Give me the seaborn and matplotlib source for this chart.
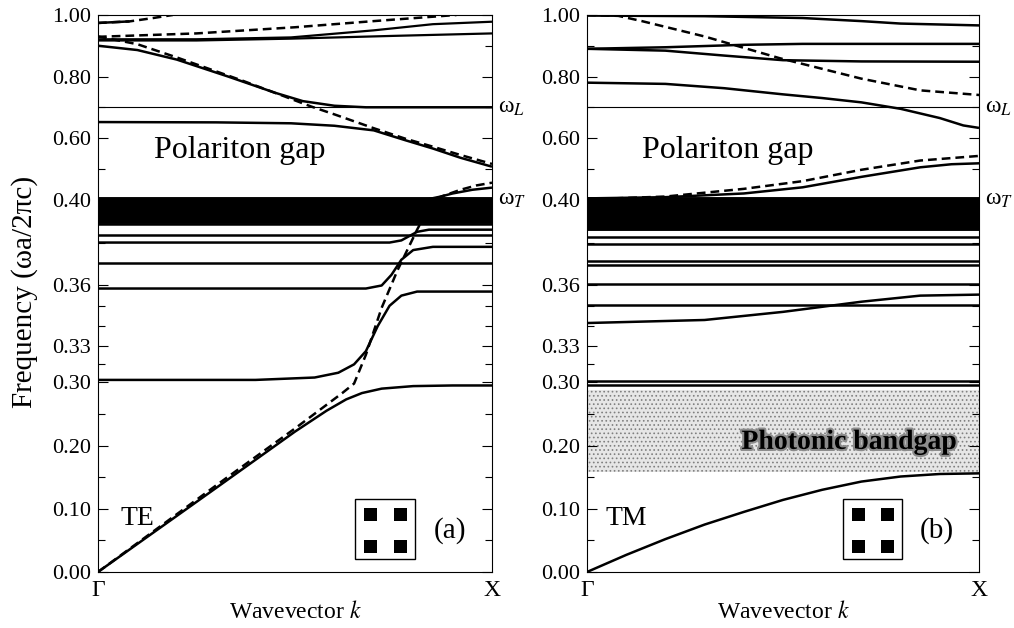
import numpy as np
import matplotlib
matplotlib.use("Agg")
import matplotlib.pyplot as plt
import matplotlib.transforms as mtransforms
import matplotlib.patheffects as pe
from matplotlib.patches import Rectangle
import seaborn as sns

# ---------------------------------------------------------------- data
# stretched frequency axis: frequency value -> vertical position (px)
scale_f = [-1.0, 0.00, 0.30, 0.33, 0.36, 0.40, 1.00, 2.0]
scale_pos = [-633, 0, 190, 226, 287, 373, 558, 866]

major_ticks = [0.00, 0.10, 0.20, 0.30, 0.33, 0.36, 0.40, 0.60, 0.80, 1.00]
major_labels = ["0.00", "0.10", "0.20", "0.30", "0.33", "0.36", "0.40",
                "0.60", "0.80", "1.00"]
minor_ticks = [0.05, 0.15, 0.25, 0.315, 0.34, 0.35, 0.38, 0.50, 0.70, 0.90]

omega_L = 0.70
omega_T = 0.40

# ---- TE panel: solid bands (k from Gamma=0 to X=1)
te_low_k = [0, 0.3, 0.5, 0.58, 0.63, 0.67, 0.72, 0.8, 0.9, 1.0]
te_low_f = [0, 0.133, 0.222, 0.255, 0.273, 0.283, 0.290, 0.294, 0.295, 0.295]

te_b2_k = [0, 0.4, 0.55, 0.61, 0.65, 0.68, 0.71, 0.74, 0.77, 0.81, 0.9, 1.0]
te_b2_f = [0.302, 0.302, 0.304, 0.308, 0.315, 0.326, 0.340, 0.350, 0.355, 0.357, 0.357, 0.357]

te_b3_k = [0, 0.68, 0.72, 0.745, 0.77, 0.80, 0.85, 1.0]
te_b3_f = [0.3585, 0.3585, 0.360, 0.365, 0.372, 0.3765, 0.378, 0.378]

te_b5_k = [0, 0.74, 0.77, 0.79, 0.81, 0.84, 1.0]
te_b5_f = [0.380, 0.380, 0.381, 0.383, 0.385, 0.386, 0.386]

te_flat_f = [0.3707, 0.3835, 0.3885]
te_band_f = [0.3895, 0.3905, 0.3915, 0.3925, 0.3935, 0.3945, 0.3955,
             0.3965, 0.3975, 0.3985, 0.3995, 0.4005]

te_up_k = [0.80, 0.84, 0.87, 0.90, 0.95, 1.0]
te_up_f = [0.3995, 0.402, 0.410, 0.420, 0.432, 0.439]

te_u2_k = [0, 0.3, 0.49, 0.6, 0.7, 0.78, 0.85, 0.92, 1.0]
te_u2_f = [0.652, 0.651, 0.648, 0.640, 0.625, 0.593, 0.566, 0.536, 0.507]

te_u1_k = [0, 0.1, 0.2, 0.33, 0.45, 0.52, 0.6, 0.68, 1.0]
te_u1_f = [0.900, 0.886, 0.855, 0.800, 0.747, 0.720, 0.705, 0.700, 0.700]

te_sa_k = [0, 0.25, 0.49, 0.7, 0.85, 1.0]
te_sa_f = [0.921, 0.921, 0.927, 0.950, 0.970, 0.978]

te_sb_k = [0, 0.25, 0.49, 0.75, 1.0]
te_sb_f = [0.917, 0.917, 0.923, 0.932, 0.940]

te_sc_k = [0, 0.08]
te_sc_f = [0.974, 0.979]

# ---- TE panel: light lines (dashed)
te_l1_k = [0, 0.3, 0.5, 0.62, 0.65, 0.68, 0.72, 0.76, 0.81, 0.85, 0.88, 0.92, 0.96, 1.0]
te_l1_f = [0, 0.137, 0.227, 0.283, 0.298, 0.323, 0.349, 0.367, 0.386, 0.400, 0.414, 0.432, 0.446, 0.455]

te_l2_k = [0, 0.1, 0.2, 0.37, 0.47, 0.54, 0.6, 0.7, 0.78, 0.85, 0.92, 1.0]
te_l2_f = [0.930, 0.905, 0.862, 0.785, 0.737, 0.703, 0.677, 0.632, 0.598, 0.572, 0.545, 0.516]

te_l3_k = [0, 0.25, 0.5, 0.7, 0.91]
te_l3_f = [0.929, 0.940, 0.960, 0.980, 1.000]

te_l4_k = [0, 0.08, 0.14, 0.19]
te_l4_f = [0.974, 0.979, 0.990, 1.000]

# ---- TM panel: solid bands
tm_low_k = [0, 0.1, 0.2, 0.3, 0.4, 0.5, 0.6, 0.7, 0.8, 0.9, 1.0]
tm_low_f = [0, 0.027, 0.052, 0.075, 0.095, 0.114, 0.130, 0.143, 0.151, 0.155, 0.156]

tm_mid_k = [0, 0.3, 0.5, 0.7, 0.85, 1.0]
tm_mid_f = [0.3415, 0.343, 0.347, 0.352, 0.355, 0.3555]

tm_flat_f = [0.2965, 0.301, 0.3505, 0.3605, 0.3695, 0.3715, 0.3795, 0.3825]
tm_band_f = [0.3865, 0.3875, 0.3885, 0.3895, 0.3905, 0.3915, 0.3925, 0.3935,
             0.3945, 0.3955, 0.3965, 0.3975, 0.3985, 0.3995, 0.4005]

tm_up_k = [0, 0.2, 0.4, 0.55, 0.7, 0.85, 0.93, 1.0]
tm_up_f = [0.404, 0.408, 0.420, 0.440, 0.474, 0.505, 0.515, 0.518]

tm_r_k = [0, 0.2, 0.35, 0.5, 0.6, 0.7, 0.8, 0.9, 0.96, 1.0]
tm_r_f = [0.780, 0.776, 0.762, 0.742, 0.730, 0.716, 0.695, 0.665, 0.641, 0.633]

tm_q_k = [0, 0.2, 0.35, 0.5, 0.7, 1.0]
tm_q_f = [0.890, 0.884, 0.868, 0.853, 0.849, 0.848]

tm_p_k = [0, 0.2, 0.4, 0.55, 1.0]
tm_p_f = [0.890, 0.895, 0.903, 0.906, 0.906]

tm_top_k = [0, 0.3, 0.55, 0.7, 0.8, 1.0]
tm_top_f = [0.998, 0.996, 0.990, 0.980, 0.972, 0.966]

# ---- TM panel: light lines (dashed)
tm_l1_k = [0, 0.2, 0.4, 0.55, 0.7, 0.85, 1.0]
tm_l1_f = [0.401, 0.410, 0.435, 0.460, 0.497, 0.527, 0.542]

tm_l2_k = [0, 0.08, 0.14, 0.3, 0.49, 0.7, 0.85, 1.0]
tm_l2_f = [1.000, 0.997, 0.980, 0.930, 0.860, 0.793, 0.755, 0.740]

# TM photonic band gap edges
bandgap_edges = [0.158, 0.288]

# ---------------------------------------------------------------- style
sns.set_theme(style="ticks")
plt.rcParams["font.family"] = ["Liberation Serif", "DejaVu Serif"]
plt.rcParams["mathtext.fontset"] = "stix"
plt.rcParams["text.color"] = "black"
plt.rcParams["axes.labelcolor"] = "black"
plt.rcParams["xtick.color"] = "black"
plt.rcParams["ytick.color"] = "black"
plt.rcParams["hatch.linewidth"] = 0.7

LW = 1.8
DASH = (0, (3.5, 2.0))


def fwd(v):
    return np.interp(np.asarray(v, float), scale_f, scale_pos)


def inv(v):
    return np.interp(np.asarray(v, float), scale_pos, scale_f)


def curve(ax, k, f, dashed=False, lw=LW):
    sns.lineplot(x=k, y=f, ax=ax, color="black", lw=lw, errorbar=None,
                 sort=False, legend=False,
                 linestyle=DASH if dashed else "-",
                 solid_capstyle="butt")


def flat(ax, levels, lw=LW):
    for lev in levels:
        curve(ax, [0, 1], [lev, lev], lw=lw)


def style_axis(ax, label):
    ax.set_yscale("function", functions=(fwd, inv))
    ax.set_xlim(0, 1)
    ax.set_ylim(0, 1)
    ax.set_yticks(major_ticks, major_labels)
    ax.set_yticks(minor_ticks, minor=True)
    ax.tick_params(axis="y", which="both", direction="in", left=True,
                   right=True, width=0.8, labelsize=16, pad=5)
    ax.tick_params(axis="y", which="major", length=7)
    ax.tick_params(axis="y", which="minor", length=5)
    ax.set_xticks([0, 1], ["Γ", "X"])
    ax.tick_params(axis="x", length=0, labelsize=17, pad=6)
    ax.set_xlabel("Wavevector $k$", fontsize=17, labelpad=0)
    ax.set_ylabel("")
    ax.grid(False)
    for s in ax.spines.values():
        s.set_linewidth(0.8)
        s.set_color("black")
    ax.axhline(omega_L, color="black", lw=0.8)
    trans = mtransforms.blended_transform_factory(ax.transAxes, ax.transData)
    ax.text(1.015, omega_L, "ω$_L$", transform=trans, fontsize=17,
            va="center", ha="left")
    ax.text(1.015, omega_T, "ω$_T$", transform=trans, fontsize=17,
            va="center", ha="left")
    # unit cell sketch with four square rods
    box_x0 = 0.652
    ax.add_patch(Rectangle((box_x0, 0.023), 0.152, 0.108, transform=ax.transAxes,
                           facecolor="white", edgecolor="black", lw=1.0,
                           zorder=5))
    for dx in (0.023, 0.099):
        for dy in (0.011, 0.068):
            ax.add_patch(Rectangle((box_x0 + dx, 0.023 + dy), 0.033, 0.024,
                                   transform=ax.transAxes,
                                   facecolor="black", edgecolor="none",
                                   zorder=6))
    ax.text(0.893, 0.075, label, transform=ax.transAxes, fontsize=21,
            ha="center", va="center")


fig = plt.figure(figsize=(10.14, 6.28), dpi=100)
ax_te = fig.add_axes([0.0966, 0.0892, 0.3886, 0.887])
ax_tm = fig.add_axes([0.5789, 0.0892, 0.3866, 0.887])

# ---------------------------------------------------------------- TE (a)
curve(ax_te, te_low_k, te_low_f)
curve(ax_te, te_b2_k, te_b2_f)
curve(ax_te, te_b3_k, te_b3_f)
curve(ax_te, te_b5_k, te_b5_f)
flat(ax_te, te_flat_f)
flat(ax_te, te_band_f, lw=2.8)
curve(ax_te, te_up_k, te_up_f)
curve(ax_te, te_u2_k, te_u2_f)
curve(ax_te, te_u1_k, te_u1_f)
curve(ax_te, te_sa_k, te_sa_f, lw=1.6)
curve(ax_te, te_sb_k, te_sb_f, lw=1.6)
curve(ax_te, te_sc_k, te_sc_f)
curve(ax_te, te_l1_k, te_l1_f, dashed=True)
curve(ax_te, te_l2_k, te_l2_f, dashed=True)
curve(ax_te, te_l3_k, te_l3_f, dashed=True)
curve(ax_te, te_l4_k, te_l4_f, dashed=True)
style_axis(ax_te, "(a)")
ax_te.text(0.36, 0.561, "Polariton gap", fontsize=23, ha="center", va="center")
ax_te.text(0.10, 0.085, "TE", fontsize=20, ha="center", va="center")

# ---------------------------------------------------------------- TM (b)
ax_tm.fill_between([0, 1], bandgap_edges[0], bandgap_edges[1],
                   facecolor="#e6e6e6", edgecolor="#808080", hatch="....",
                   lw=0, zorder=0)
curve(ax_tm, tm_low_k, tm_low_f)
curve(ax_tm, tm_mid_k, tm_mid_f)
flat(ax_tm, tm_flat_f)
flat(ax_tm, tm_band_f, lw=2.8)
curve(ax_tm, tm_up_k, tm_up_f)
curve(ax_tm, tm_r_k, tm_r_f)
curve(ax_tm, tm_q_k, tm_q_f)
curve(ax_tm, tm_p_k, tm_p_f)
curve(ax_tm, tm_top_k, tm_top_f)
curve(ax_tm, tm_l1_k, tm_l1_f, dashed=True)
curve(ax_tm, tm_l2_k, tm_l2_f, dashed=True)
style_axis(ax_tm, "(b)")
ax_tm.text(0.36, 0.561, "Polariton gap", fontsize=23, ha="center", va="center")
ax_tm.text(0.10, 0.085, "TM", fontsize=20, ha="center", va="center")
ax_tm.text(0.668, 0.205, "Photonic bandgap", fontsize=20, fontweight="bold",
           ha="center", va="center",
           path_effects=[pe.withStroke(linewidth=3, foreground="#8c8c8c")])

fig.text(0.024, 0.535, "Frequency (ωa/2πc)", rotation=90, fontsize=21,
         ha="center", va="center")

fig.savefig("out.png", dpi=100)
